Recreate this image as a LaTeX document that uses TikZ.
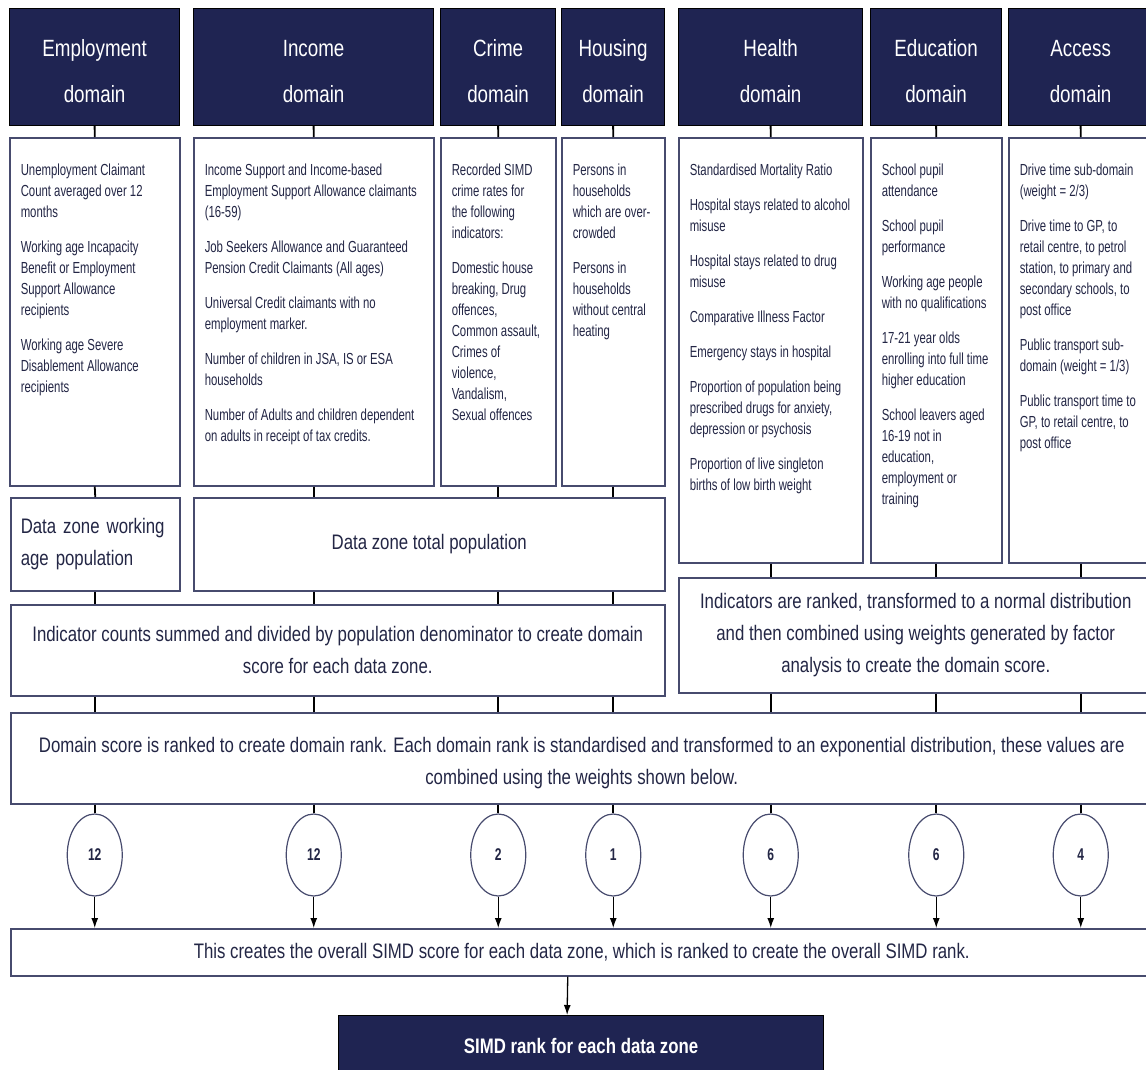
\documentclass[tikz,border=0pt]{standalone}
\usepackage{fontspec}
\setmainfont{Liberation Sans}[FakeStretch=0.8]
\newfontfamily\narrowfont{Liberation Sans}[FakeStretch=0.71]
\usetikzlibrary{arrows.meta,shapes.geometric}
\definecolor{navyx}{HTML}{1F2452}
\definecolor{edgex}{HTML}{474B6E}
\definecolor{textx}{HTML}{232645}
% indicator list: width, height, paragraphs
\newcommand{\indlist}[3]{\parbox[c][#2][t]{#1}{\narrowfont\fontsize{16}{21}\selectfont
  \raggedright\leftskip=11pt\parskip=14pt\vspace*{12pt}#3}}
\tikzset{
  hdr/.style={draw=black,line width=1.2pt,fill=navyx,text=white,anchor=north west,inner sep=0pt,
    minimum height=117pt,align=center,font=\fontsize{23.5}{46}\selectfont},
  ind/.style={draw=edgex,line width=1.5pt,fill=white,anchor=north west,inner sep=0pt,text=textx},
  flow/.style={draw=edgex,line width=1.5pt,fill=white,anchor=north west,inner sep=0pt,text=textx,
    align=center,font=\fontsize{21}{32}\selectfont},
  wt/.style={ellipse,draw=edgex,line width=1.2pt,fill=white,minimum width=55pt,minimum height=82pt,
    inner sep=0pt,text=textx,font=\narrowfont\bfseries\fontsize{17}{18}\selectfont},
  link/.style={line width=1.8pt,black},
  arr/.style={-{Latex[length=10pt,width=7pt]},line width=1.3pt,black}
}
\begin{document}
\begin{tikzpicture}[x=1pt,y=-1pt]
\fill[white] (0,0) rectangle (1146,1069);
\useasboundingbox (0,0) rectangle (1146,1069);
% domain headers
\foreach \d/\x/\w/\t in {Emp/9/170/Employment,Inc/193/240/Income,Cri/440/115/Crime,Hou/561/103/Housing,
  Hea/678/184/Health,Edu/870/131/Education,Acc/1008/144/Access}
  {\node[hdr,minimum width=\w pt] (h\d) at (\x,8) {\rule{0pt}{25pt}\t\\domain};}
% indicators
\node[ind] (iEmp) at (9,137) {\indlist{170pt}{348pt}{%
  Unemployment Claimant\\Count averaged over 12\\months\par
  Working age Incapacity\\Benefit or Employment\\Support Allowance\\recipients\par
  Working age Severe\\Disablement Allowance\\recipients}};
\node[ind] (iInc) at (193,137) {\indlist{240pt}{348pt}{%
  Income Support  and Income-based\\Employment Support Allowance claimants\\(16-59)\par
  Job Seekers Allowance and Guaranteed\\Pension Credit Claimants (All ages)\par
  Universal Credit claimants with no\\employment marker.\par
  Number of children in JSA, IS or ESA\\households\par
  Number of Adults and children dependent\\on adults  in receipt of tax credits.}};
\node[ind] (iCri) at (440,137) {\indlist{115pt}{348pt}{%
  Recorded SIMD\\crime rates for\\the following\\indicators:\par
  Domestic house\\breaking, Drug\\offences,\\Common assault,\\Crimes of\\violence,\\Vandalism,\\Sexual offences}};
\node[ind] (iHou) at (561,137) {\indlist{103pt}{348pt}{%
  Persons in\\households\\which are over-\\crowded\par
  Persons in\\households\\without central\\heating}};
\node[ind] (iHea) at (678,137) {\indlist{184pt}{425pt}{%
  Standardised Mortality Ratio\par
  Hospital stays related to alcohol\\misuse\par
  Hospital stays related to drug\\misuse\par
  Comparative Illness Factor\par
  Emergency stays in hospital\par
  Proportion of population being\\prescribed drugs for anxiety,\\depression or psychosis\par
  Proportion of live singleton\\births of low birth weight}};
\node[ind] (iEdu) at (870,137) {\indlist{131pt}{425pt}{%
  School pupil\\attendance\par
  School pupil\\performance\par
  Working age people\\with no qualifications\par
  17-21 year olds\\enrolling into full time\\higher education\par
  School leavers aged\\16-19 not in\\education,\\employment or\\training}};
\node[ind] (iAcc) at (1008,137) {\indlist{144pt}{425pt}{%
  Drive time sub-domain\\(weight = 2/3)\par
  Drive time to GP, to\\retail centre, to petrol\\station, to primary and\\secondary schools, to\\post office\par
  Public transport sub-\\domain (weight = 1/3)\par
  Public transport time to\\GP, to retail centre, to\\post office}};
% denominators and domain scores
\node[flow,minimum width=169pt,minimum height=93pt,text width=149pt,align=left] (popWork) at (10,497)
  {Data zone working\\age population};
\node[flow,minimum width=471pt,minimum height=93pt] (popTot) at (193,497) {Data zone total population};
\node[flow,minimum width=654pt,minimum height=91pt] (cnt) at (10,604)
  {Indicator counts summed and divided by population denominator to create domain\\score for each data zone.};
\node[flow,minimum width=474pt,minimum height=115pt] (rnk) at (678,577)
  {Indicators are ranked, transformed to a normal distribution\\and then combined using weights generated by factor\\analysis to create the domain score.};
\node[flow,minimum width=1142pt,minimum height=91pt] (dom) at (10,712)
  {\rule{0pt}{24pt}Domain score is ranked to create domain rank. Each domain rank is standardised and transformed to an exponential distribution, these values are\\combined using the weights shown below.};
\node[flow,minimum width=1142pt,minimum height=47pt] (all) at (10,928)
  {This creates the overall SIMD score for each data zone, which is ranked to create the overall SIMD rank.};
\node[hdr,minimum width=485pt,minimum height=60pt,font=\bfseries\fontsize{21}{24}\selectfont] (rank) at (338,1015)
  {SIMD rank for each data zone};
% connectors
\foreach \d in {Emp,Inc,Cri,Hou,Hea,Edu,Acc}
  {\draw[link] (h\d.south) -- (i\d.north);}
\draw[link] (iEmp.south) -- (popWork.north);
\draw[link] (popWork.south) -- (popWork.south |- cnt.north);
\draw[link] (popWork.south |- cnt.south) -- (popWork.south |- dom.north);
\foreach \d in {Inc,Cri,Hou}{
  \draw[link] (i\d.south) -- (i\d.south |- popTot.north);
  \draw[link] (i\d.south |- popTot.south) -- (i\d.south |- cnt.north);
  \draw[link] (i\d.south |- cnt.south) -- (i\d.south |- dom.north);
}
\foreach \d in {Hea,Edu,Acc}{
  \draw[link] (i\d.south) -- (i\d.south |- rnk.north);
  \draw[link] (i\d.south |- rnk.south) -- (i\d.south |- dom.north);
}
% weights
\foreach \d/\n in {Emp/12,Inc/12,Cri/2,Hou/1,Hea/6,Edu/6,Acc/4}{
  \node[wt] (w\d) at (i\d.south |- 0,855) {\n};
  \draw[link] (w\d |- dom.south) -- (w\d.north);
  \draw[arr] (w\d.south) -- (w\d |- all.north);
}
\draw[arr] ([xshift=-14pt]all.south) -- ([xshift=-14pt]rank.north);
\end{tikzpicture}
\end{document}
